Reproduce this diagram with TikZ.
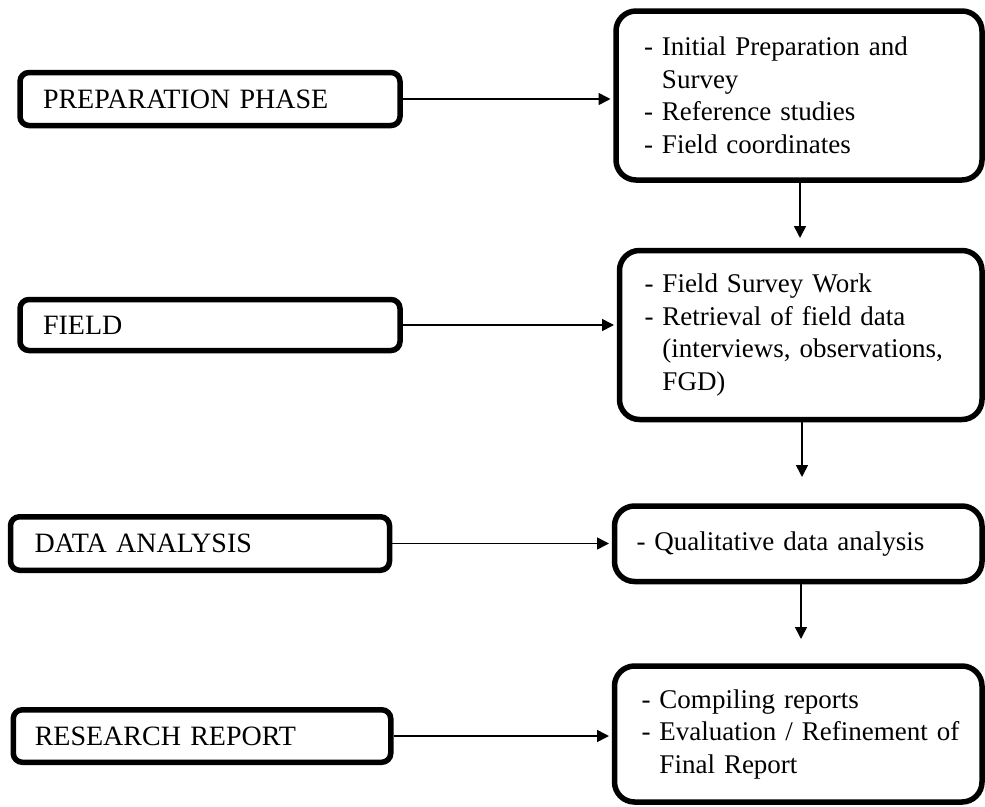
\documentclass[tikz,border=0pt]{standalone}
\usepackage{fontspec}
\setmainfont{Liberation Serif}
\usetikzlibrary{arrows.meta,calc}
\newcommand\fsz{\fontsize{27}{32.5}\selectfont}
\newcommand\lfsz{\fontsize{28}{32.5}\selectfont}
\tikzset{
  lbox/.style={draw, line width=5.5pt, rounded corners=9pt, inner ysep=0pt, align=left, font=\lfsz},
  rbox/.style={draw, line width=5.5pt, rounded corners=20pt, inner ysep=0pt, align=left, font=\fsz},
  arr/.style={line width=1.6pt, -{Triangle[length=12pt,width=12pt]}},
}
\begin{document}
\begin{tikzpicture}[x=1pt,y=-1pt]
\useasboundingbox (0,0) rectangle (985,806);
% left boxes
\node[lbox, inner xsep=23pt, text width=334pt, minimum height=53pt] (b1) at (210,99) {PREPARATION PHASE};
\node[lbox, inner xsep=23pt, text width=334pt, minimum height=51pt] (b2) at (210,325) {FIELD};
\node[lbox, inner xsep=24pt, text width=331pt, minimum height=53.5pt] (b3) at (200,543.5) {DATA ANALYSIS};
\node[lbox, inner xsep=21.5pt, text width=334.5pt, minimum height=52.5pt] (b4) at (202,736) {RESEARCH REPORT};
% right boxes
\node[rbox, inner xsep=28pt, text width=310pt, minimum height=169pt] (r1) at (799,95.5)
  {\mbox{- Initial Preparation and}\\\mbox{\hphantom{- }Survey}\\\mbox{- Reference studies}\\\mbox{- Field coordinates}};
\node[rbox, inner xsep=25pt, text width=312.5pt, minimum height=169pt] (r2) at (800.75,335)
  {\mbox{- Field Survey Work}\\\mbox{- Retrieval of field data}\\\mbox{\hphantom{- }(interviews, observations,}\\\mbox{\hphantom{- }FGD)}};
\node[rbox, inner xsep=22pt, text width=323.5pt, minimum height=75.5pt] (r3) at (798.25,543.75)
  {\mbox{- Qualitative data analysis}};
\node[rbox, inner xsep=27pt, text width=313.5pt, minimum height=136pt] (r4) at (798.25,734)
  {\mbox{- Compiling reports}\\\mbox{- Evaluation / Refinement of}\\\mbox{\hphantom{- }Final Report}};
% horizontal connectors
\draw[arr, shorten >=2.75pt] (b1.east) -- (b1.east -| r1.west);
\draw[arr, shorten >=2.75pt] (b2.east) -- (b2.east -| r2.west);
\draw[arr, shorten >=2.75pt] (b3.east) -- (b3.east -| r3.west);
\draw[arr, shorten >=2.75pt] (b4.east) -- (b4.east -| r4.west);
% vertical connectors with free ends
\coordinate (t1) at (800,238);
\coordinate (t2) at (802,477);
\coordinate (t3) at (801,639);
\draw[arr] (r1.south -| t1) -- (t1);
\draw[arr] (r2.south -| t2) -- (t2);
\draw[arr] (r3.south -| t3) -- (t3);
\end{tikzpicture}
\end{document}
